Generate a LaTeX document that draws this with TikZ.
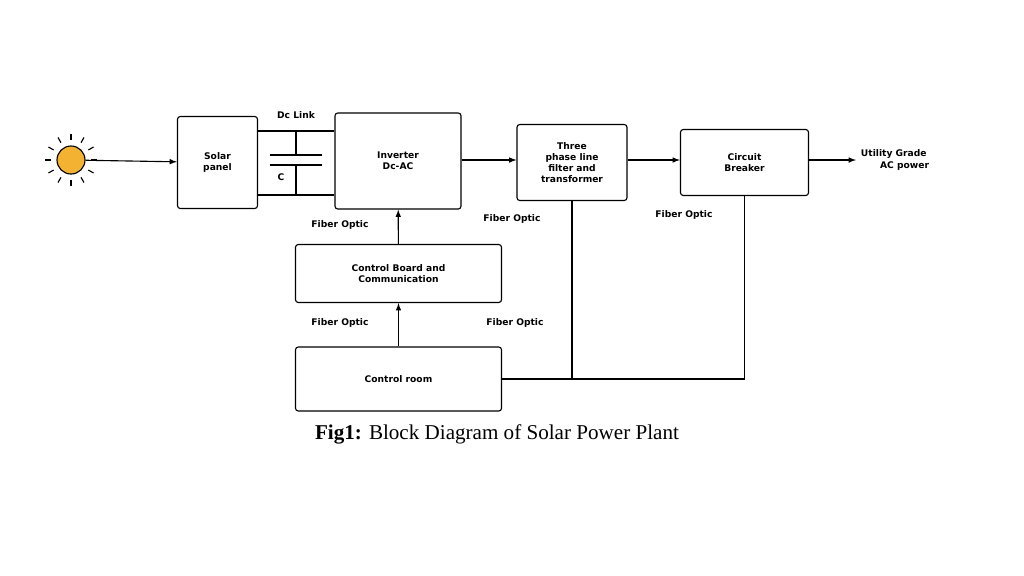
\documentclass[tikz,border=0pt]{standalone}
\usepackage{fontspec}
\setmainfont{Liberation Serif}
\newfontfamily\labelfont{DejaVu Sans}
\usetikzlibrary{positioning, arrows}
\definecolor{sunfill}{HTML}{F4B233}
\tikzset{
	block/.style={
		rectangle,
		draw,
		thick,
		align=center,
		rounded corners=2pt,
		font=\labelfont\bfseries\fontsize{6.5}{8}\selectfont,
	},
	tag/.style={
		font=\labelfont\bfseries\fontsize{6.5}{8}\selectfont,
	},
	wire/.style={thick},
}
\begin{document}
\begin{tikzpicture}[x=0.025cm, y=-0.025cm, >=latex]
		\useasboundingbox (0,0) rectangle (1024,575);
		% Place nodes
		\node [circle, draw, thick, fill=sunfill, minimum size=0.7cm, inner sep=0pt] (sun) at (71,160) {};
		\foreach \a in {0,30,...,330}
			\draw [thick] (sun.center) ++(\a:20) -- ++(\a:6);
		\node [block, minimum width=2cm, minimum height=2.3cm] (panel) at (217.5,162.5) {Solar\\panel};
		\node [block, minimum width=3.15cm, minimum height=2.4cm] (inv) at (398,161) {Inverter\\Dc-AC};
		\node [block, minimum width=2.75cm, minimum height=1.9cm] (filt) at (572,162.5) {Three\\phase line\\filter and\\transformer};
		\node [block, minimum width=3.2cm, minimum height=1.65cm] (cb) at (744.5,162.5) {Circuit\\Breaker};
		\node [tag, align=left, anchor=west] (ac) at (856,160) {Utility Grade\\\ \ \ \ \ \ AC power};
		\node [block, minimum width=5.15cm, minimum height=1.45cm] (board) at (398.5,273.5) {Control Board and\\Communication};
		\node [block, minimum width=5.15cm, minimum height=1.6cm] (room) at (398.5,379) {Control room};
		
		% Dc link with capacitor
		\coordinate (ptop) at (296,155);
		\coordinate (pbot) at (296,165);
		\draw [wire] (panel.east |- 0,131) -- (inv.west |- 0,131);
		\draw [wire] (panel.east |- 0,195) -- (inv.west |- 0,195);
		\draw [wire] (296,131) -- (ptop);
		\draw [wire] (pbot) -- (296,195);
		\draw [wire] (ptop) ++(-26,0) -- ++(52,0);
		\draw [wire] (pbot) ++(-26,0) -- ++(52,0);
		\node [tag] (dclink) at (296,115) {Dc Link};
		\node [tag] (cap) at (281,177) {C};
		
		\draw [->, thick] (sun) -- (panel);
		\draw [->, thick] (inv.east |- 0,160) -- (filt.west |- 0,160);
		\draw [->, thick] (filt.east |- 0,160) -- (cb.west |- 0,160);
		\draw [->, thick] (cb.east |- 0,160) -- (ac.west);
		\draw [->, thick] (board) -- (inv);
		\draw [->, thick] (room) -- (board);
		\coordinate (jn) at (572,379);
		\draw [wire] (room.east) -- (jn) -- (filt.south);
		\draw [wire] (jn) -| (cb.south);
		
		\node [tag] (fo1) at (340,225) {Fiber Optic};
		\node [tag] (fo2) at (512,219) {Fiber Optic};
		\node [tag] (fo3) at (684,215) {Fiber Optic};
		\node [tag] (fo4) at (340,323) {Fiber Optic};
		\node [tag] (fo5) at (515,323) {Fiber Optic};
		
		\node [font=\fontsize{15}{18}\selectfont] (caption) at (497,434) {\textbf{Fig1:} Block Diagram of Solar Power Plant};

	\end{tikzpicture}
\end{document}
